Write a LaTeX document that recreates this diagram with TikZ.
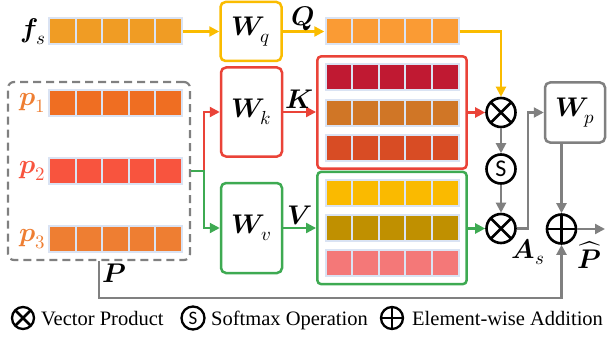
\documentclass[tikz,border=0pt]{standalone}
\usepackage{fontspec}
\usepackage{unicode-math}
\setmainfont{Liberation Serif}
\setmathfont{Latin Modern Math}
\newfontfamily\calib{Carlito}
\usetikzlibrary{arrows.meta,fit}

\definecolor{rowblue}{RGB}{218,227,243}
\definecolor{qyellow}{RGB}{250,188,0}
\definecolor{kred}{RGB}{234,67,56}
\definecolor{vgreen}{RGB}{62,170,82}
\definecolor{lgray}{RGB}{128,128,128}
\definecolor{fsorange}{RGB}{240,156,36}
\definecolor{pone}{RGB}{239,110,34}
\definecolor{ptwo}{RGB}{248,84,62}
\definecolor{pthree}{RGB}{238,126,50}
\definecolor{qorange}{RGB}{250,155,52}
\definecolor{kone}{RGB}{192,25,50}
\definecolor{ktwo}{RGB}{208,118,38}
\definecolor{kthree}{RGB}{216,76,36}
\definecolor{vone}{RGB}{250,186,0}
\definecolor{vtwo}{RGB}{192,144,0}
\definecolor{vthree}{RGB}{244,120,120}

% one feature vector: name, centre x, centre y, colour
\newcommand{\vecrow}[4]{%
  \node[vecrow] (#1) at (#2,#3) {};
  \foreach \i in {0,...,4}{
    \fill[#4] (#2-65.5+\i*26.6,#3-12) rectangle ++(24.6,24);
  }
}

\begin{document}
\begin{tikzpicture}[x=1pt,y=-1pt,
  vecrow/.style={rectangle,fill=rowblue,minimum width=135pt,minimum height=28pt,inner sep=0},
  wbox/.style={draw=#1,rounded corners=5pt,line width=2.5pt,fill=white,inner sep=0,
    font=\fontsize{27}{29}\selectfont},
  grpbox/.style={draw=#1,rounded corners=4pt,line width=2.5pt,inner sep=7pt},
  flow/.style={draw=#1,line width=2.2pt,-{Triangle[length=10pt,width=10pt]}},
  lbl/.style={font=\fontsize{27}{29}\selectfont,inner sep=2pt},
  op/.style={circle,draw,line width=2.6pt,minimum size=29pt,inner sep=0},
  otimes/.style={op,path picture={
    \draw[line width=2.6pt]
      ([shift={(45:20pt)}]path picture bounding box.center) -- ([shift={(225:20pt)}]path picture bounding box.center)
      ([shift={(135:20pt)}]path picture bounding box.center) -- ([shift={(315:20pt)}]path picture bounding box.center);}},
  oplus/.style={op,path picture={
    \draw[line width=2.6pt]
      ([shift={(0:20pt)}]path picture bounding box.center) -- ([shift={(180:20pt)}]path picture bounding box.center)
      ([shift={(90:20pt)}]path picture bounding box.center) -- ([shift={(270:20pt)}]path picture bounding box.center);}},
  legend/.style={font=\fontsize{20.5}{24}\selectfont,inner sep=0,anchor=base west}]
\useasboundingbox (0,0) rectangle (608,337);

% inputs
\vecrow{fs}{115.5}{31.5}{fsorange}
\vecrow{p1}{115.5}{103}{pone}
\vecrow{p2}{115.5}{171}{ptwo}
\vecrow{p3}{115.5}{239}{pthree}
\node[lbl,anchor=east] (fslab) at (fs.west) {$\symbfit{f}_s$};
\node[lbl,anchor=east,text=pthree] (p1lab) at (p1.west) {$\symbfit{p}_1$};
\node[lbl,anchor=east,text=ptwo] (p2lab) at (p2.west) {$\symbfit{p}_2$};
\node[lbl,anchor=east,text=pthree] (p3lab) at (p3.west) {$\symbfit{p}_3$};
\node[draw=lgray,line width=2.2pt,dash pattern=on 8pt off 5pt,rounded corners=6pt,
  inner sep=0,fit={(8,82)(190,260)}] (pset) {};

% projections
\node[wbox=qyellow,minimum width=61pt,minimum height=59pt] (wq) at (251,31.5) {$\symbfit{W}_q$};
\node[wbox=kred,minimum width=61pt,minimum height=89pt] (wk) at (251.5,112) {$\symbfit{W}_k$};
\node[wbox=vgreen,minimum width=61pt,minimum height=90pt] (wv) at (251.5,228) {$\symbfit{W}_v$};
\node[wbox=lgray,minimum width=60pt,minimum height=60pt] (wp) at (575,112.5) {$\symbfit{W}_p$};

% Q, K, V
\vecrow{qrow}{392}{31.5}{qorange}
\vecrow{k1}{392}{77.5}{kone}
\vecrow{k2}{392}{112.5}{ktwo}
\vecrow{k3}{392}{147.5}{kthree}
\vecrow{v1}{392}{193}{vone}
\vecrow{v2}{392}{228}{vtwo}
\vecrow{v3}{392}{263}{vthree}
\node[grpbox=kred,fit=(k1)(k3)] (kbox) {};
\node[grpbox=vgreen,fit=(v1)(v3)] (vbox) {};

% operators
\node[otimes] (mul1) at (501,112.5) {};
\node[op,font=\calib\fontsize{24}{26}\selectfont] (smax) at (501,169) {S};
\node[otimes] (mul2) at (501,228.5) {};
\node[oplus] (add) at (561.5,229) {};

% connectors
\coordinate (split) at (204,171);
\draw[flow=qyellow] (fs.east) -- (wq.west);
\draw[flow=qyellow] (wq.east) -- node[lbl,above,inner sep=0pt] (qlab) {$\symbfit{Q}$} (qrow.west);
\draw[flow=qyellow] (qrow.east) -| (mul1.north);
\draw[flow=kred] (split) |- (wk.west);
\draw[flow=vgreen] (pset.east |- p2.east) -- (split) |- (wv.west);
\draw[flow=kred] (wk.east) -- node[lbl,above] (klab) {$\symbfit{K}$} (wk.east -| kbox.west);
\draw[flow=vgreen] (wv.east) -- node[lbl,above] (vlab) {$\symbfit{V}$} (wv.east -| vbox.west);
\draw[flow=kred] (kbox.east |- mul1.west) -- (mul1.west);
\draw[flow=vgreen] (vbox.east |- mul2.west) -- (mul2.west);
\draw[flow=lgray] (mul1.south) -- (smax.north);
\draw[flow=lgray] (smax.south) -- (mul2.north);
\draw[flow=lgray] (mul2.east) -- ++(11,0) |- (wp.west);
\draw[flow=lgray] (wp.south -| add.north) -- (add.north);
\draw[flow=lgray] (add.east) -- (605,229);
\draw[flow=lgray] (pset.south) -- ++(0,37) -| (add.south);
\node[lbl] (aslab) at (528,252) {$\symbfit{A}_s$};
\node[lbl] (phat) at (589,255) {$\widehat{\symbfit{P}}$};
\node[lbl] (plab) at (114,273) {$\symbfit{P}$};

% legend
\node[otimes,minimum size=22pt,line width=2.3pt] (lgmul) at (23,318) {};
\node[legend] (lgmultxt) at (41,325) {Vector Product};
\node[op,minimum size=23pt,line width=2.3pt,font=\calib\fontsize{19}{21}\selectfont] (lgsmax) at (193,318) {S};
\node[legend] (lgsmaxtxt) at (211,325) {Softmax Operation};
\node[oplus,minimum size=22pt,line width=2.3pt] (lgadd) at (392,318) {};
\node[legend] (lgaddtxt) at (412,325) {Element-wise Addition};
\end{tikzpicture}
\end{document}
